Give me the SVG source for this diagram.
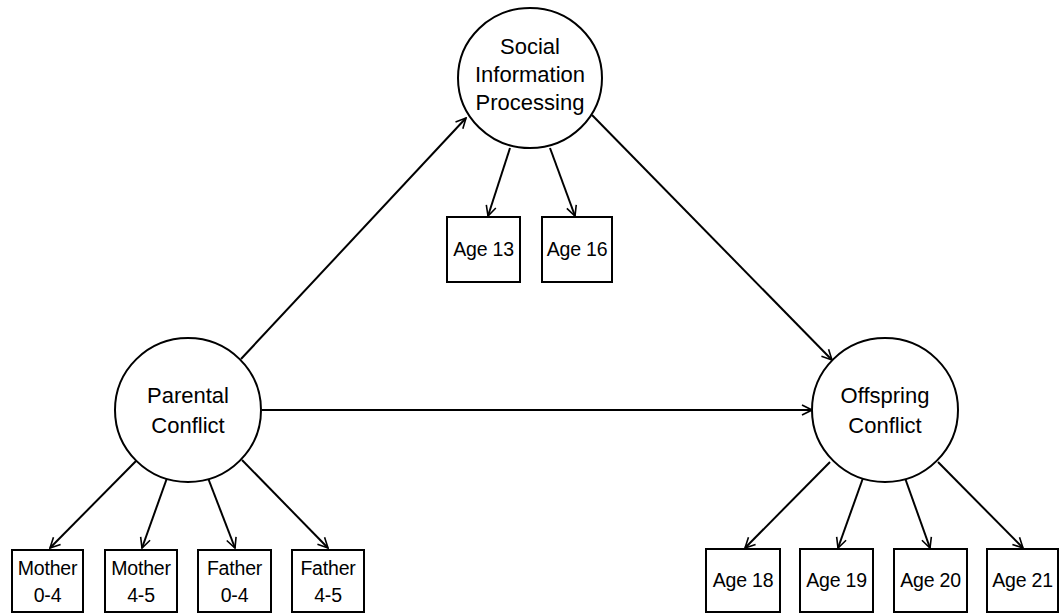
<svg xmlns="http://www.w3.org/2000/svg" width="1060" height="614" viewBox="0 0 1060 614">
<defs>
<marker id="arr" viewBox="0 0 12 12" refX="11" refY="6" markerWidth="12" markerHeight="12" markerUnits="userSpaceOnUse" orient="auto">
<path d="M1,1 L11,6 L1,11" fill="none" stroke="#000" stroke-width="1.6"/>
</marker>
<style>
.lat{fill:#fff;stroke:#000;stroke-width:2}
.box{fill:#fff;stroke:#000;stroke-width:2}
.t{font-family:"Liberation Sans",Arial,sans-serif;font-size:22px;fill:#000;text-anchor:middle}
.b{font-family:"Liberation Sans",Arial,sans-serif;font-size:19.5px;fill:#000;text-anchor:middle;letter-spacing:-0.2px}
.c{stroke:#000;stroke-width:2;fill:none;marker-end:url(#arr)}
</style>
</defs>
<rect width="1060" height="614" fill="#fff"/>
<g id="connectors">
<line class="c" x1="241" y1="359" x2="466" y2="118"/>
<line class="c" x1="592" y1="115" x2="832" y2="360"/>
<line class="c" x1="262" y1="410" x2="812" y2="410"/>
<line class="c" x1="510" y1="148" x2="488" y2="216"/>
<line class="c" x1="550" y1="148" x2="575" y2="216"/>
<line class="c" x1="137" y1="460" x2="50" y2="548"/>
<line class="c" x1="167" y1="478" x2="142" y2="548"/>
<line class="c" x1="208" y1="478" x2="235" y2="548"/>
<line class="c" x1="242" y1="460" x2="328" y2="548"/>
<line class="c" x1="830" y1="462" x2="745" y2="548"/>
<line class="c" x1="863" y1="478" x2="838" y2="548"/>
<line class="c" x1="905" y1="478" x2="930" y2="548"/>
<line class="c" x1="938" y1="462" x2="1023" y2="548"/>
</g>
<g id="sip">
<ellipse class="lat" cx="530" cy="78" rx="72" ry="70"/>
<text class="t" x="530" y="54">Social</text>
<text class="t" x="530" y="82">Information</text>
<text class="t" x="530" y="110">Processing</text>
</g>
<g id="parental">
<ellipse class="lat" cx="188" cy="410" rx="73" ry="72"/>
<text class="t" x="188" y="403">Parental</text>
<text class="t" x="188" y="433">Conflict</text>
</g>
<g id="offspring">
<ellipse class="lat" cx="885" cy="410" rx="73" ry="72"/>
<text class="t" x="885" y="403">Offspring</text>
<text class="t" x="885" y="433">Conflict</text>
</g>
<g id="age13"><rect class="box" x="447" y="217" width="73" height="65"/><text class="b" x="483.5" y="256">Age 13</text></g>
<g id="age16"><rect class="box" x="542" y="217" width="70" height="65"/><text class="b" x="577" y="256">Age 16</text></g>
<g id="mother04"><rect class="box" x="12" y="550" width="71" height="62"/><text class="b" x="47.5" y="575">Mother</text><text class="b" x="47.5" y="602">0-4</text></g>
<g id="mother45"><rect class="box" x="105" y="550" width="72" height="62"/><text class="b" x="141" y="575">Mother</text><text class="b" x="141" y="602">4-5</text></g>
<g id="father04"><rect class="box" x="198" y="550" width="73" height="62"/><text class="b" x="234.5" y="575">Father</text><text class="b" x="234.5" y="602">0-4</text></g>
<g id="father45"><rect class="box" x="292" y="550" width="72" height="62"/><text class="b" x="328" y="575">Father</text><text class="b" x="328" y="602">4-5</text></g>
<g id="age18"><rect class="box" x="706" y="549" width="74" height="63"/><text class="b" x="743" y="587">Age 18</text></g>
<g id="age19"><rect class="box" x="800" y="549" width="73" height="63"/><text class="b" x="836.5" y="587">Age 19</text></g>
<g id="age20"><rect class="box" x="894" y="549" width="73" height="63"/><text class="b" x="930.5" y="587">Age 20</text></g>
<g id="age21"><rect class="box" x="987" y="549" width="71" height="63"/><text class="b" x="1022.5" y="587">Age 21</text></g>
</svg>
